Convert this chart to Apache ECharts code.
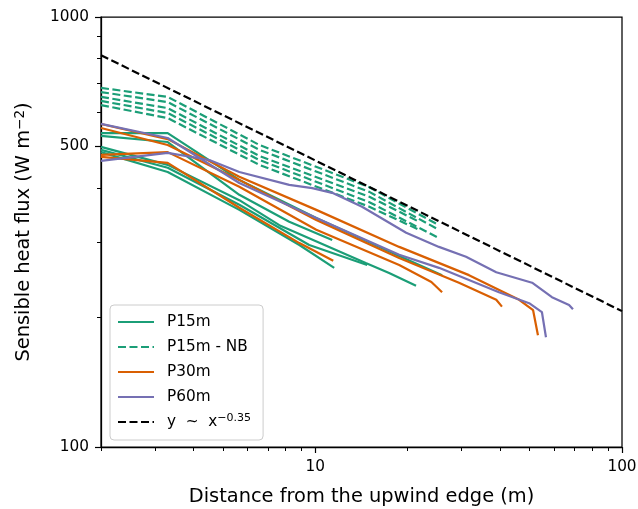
<!DOCTYPE html>
<html>
<head>
<meta charset="utf-8">
<script src="https://cdn.jsdelivr.net/npm/echarts@6/dist/echarts.min.js"></script>
<style>html,body{margin:0;padding:0;background:#fff}#c{width:638px;height:509px}</style>
</head>
<body>
<div id="c"></div>
<script>
// ---- Data ----
// P15m (solid green)
const g1x = [2, 3.3, 5.65, 10.07, 18.77, 25.9];
const g1y = [537, 537, 418, 341, 278, 251];
const g2x = [2, 3.3, 5.65, 8.22, 11.35];
const g2y = [529, 512, 386, 334, 303];
const g3x = [2, 3.3, 5.65, 7.63, 14.6, 17.4, 21.3];
const g3y = [499, 453, 375, 328, 268, 254, 237];
const g4x = [2, 3.3, 5.65, 9.55, 14.76];
const g4y = [491, 446, 366, 295, 265];
const g5x = [2, 3.3, 5.65, 8.87, 11.52];
const g5y = [485, 436, 356, 295, 261];
// P15m - NB (dashed green)
const d1x = [2, 3.3, 6.57, 15.0, 25.3];
const d1y = [684, 652, 504, 402, 328];
const d2x = [2, 3.3, 6.57, 15.0, 25.3];
const d2y = [669, 634, 491, 392, 320];
const d3x = [2, 3.3, 6.57, 15.0, 21.8];
const d3y = [652, 614, 475, 382, 334];
const d4x = [2, 3.3, 6.57, 15.0, 25.3];
const d4y = [638, 598, 465, 371, 306];
const d5x = [2, 3.3, 6.57, 15.0, 21.8];
const d5y = [624, 582, 453, 362, 320];
// P30m (orange)
const o1x = [2, 3.3, 5.65, 10.07, 18.77, 31.7, 46.2, 51.3, 53.2];
const o1y = [564, 520, 425, 356, 292, 251, 220, 208, 182];
const o2x = [2, 3.3, 5.65, 10.07, 18.77, 29.4, 38.9, 40.6];
const o2y = [552, 504, 418, 337, 275, 241, 220, 212];
const o3x = [2, 3.3, 5.65, 10.07, 18.77, 23.9, 25.9];
const o3y = [478, 485, 403, 320, 265, 242, 229];
const o4x = [2, 3.3, 5.65, 8.87, 11.44];
const o4y = [473, 458, 360, 298, 271];
// P60m (purple)
const p1x = [2, 3.3, 4.51, 5.65, 8.22, 9.77, 11.35, 14.2, 19.78, 25.3, 31.0, 38.9, 50.9, 59.1, 67.2, 69.2];
const p1y = [463, 483, 465, 436, 407, 400, 390, 362, 315, 292, 277, 255, 241, 223, 214, 209];
const p2x = [2, 3.3, 5.65, 10.07, 18.77, 25.3, 39.7, 49.8, 54.8, 56.5];
const p2y = [564, 523, 411, 341, 280, 261, 229, 216, 206, 180];
// reference power law y ~ x^-0.35 (end points)
const refX = [2, 100];
const refY = [815, 207];

// Axis ticks and labels
const xMajor = [10, 100];
const xMinor = [2, 3, 4, 5, 6, 7, 8, 9, 20, 30, 40, 50, 60, 70, 80, 90];
const yMajor = [100, 500, 1000];
const yMinor = [200, 300, 400, 600, 700, 800, 900];

const GREEN = '#1b9e77', ORANGE = '#d95f02', PURPLE = '#7570b3';
const FONT = 'DejaVu Sans';

function pts(xs, ys) { return xs.map((x, i) => [x, ys[i]]); }
function line(name, xs, ys, color, dashed, z) {
  return {
    type: 'line', name: name, data: pts(xs, ys), symbol: 'none', silent: true,
    xAxisIndex: 0, yAxisIndex: 0, z: z || 2,
    lineStyle: { color: color, width: 2.2, type: dashed ? [8, 3.5] : 'solid' },
    itemStyle: { color: color }
  };
}

const series = [
  line('P15m', g1x, g1y, GREEN), line('P15m', g2x, g2y, GREEN), line('P15m', g3x, g3y, GREEN),
  line('P15m', g4x, g4y, GREEN), line('P15m', g5x, g5y, GREEN),
  line('P15m - NB', d1x, d1y, GREEN, true), line('P15m - NB', d2x, d2y, GREEN, true),
  line('P15m - NB', d3x, d3y, GREEN, true), line('P15m - NB', d4x, d4y, GREEN, true),
  line('P15m - NB', d5x, d5y, GREEN, true),
  line('P30m', o1x, o1y, ORANGE), line('P30m', o2x, o2y, ORANGE),
  line('P30m', o3x, o3y, ORANGE), line('P30m', o4x, o4y, ORANGE),
  line('P60m', p1x, p1y, PURPLE), line('P60m', p2x, p2y, PURPLE),
  line('powerlaw', refX, refY, '#000', true, 3)
];

const option = {
  animation: false,
  backgroundColor: '#fff',
  textStyle: { fontFamily: FONT },
  grid: { left: 101, top: 17, width: 521, height: 430, show: true, borderColor: '#000', borderWidth: 1.25,
    backgroundColor: 'transparent', containLabel: false, outerBoundsMode: 'none' },
  xAxis: [
    {
      type: 'log', logBase: 10, min: 2, max: 100, position: 'bottom',
      splitLine: { show: false },
      name: 'Distance from the upwind edge (m)', nameLocation: 'middle', nameGap: 40,
      nameTextStyle: { fontSize: 19.4, color: '#000', fontFamily: FONT },
      axisLine: { show: true, lineStyle: { color: '#000', width: 1.25 } },
      axisTick: { show: true, length: 6, lineStyle: { color: '#000', width: 1.2 }, customValues: xMajor },
      axisLabel: { show: true, customValues: xMajor, margin: 13, fontSize: 15.3, color: '#000', fontFamily: FONT, formatter: v => String(v) }
    },
    {
      type: 'log', logBase: 10, min: 2, max: 100, position: 'bottom', offset: 0,
      splitLine: { show: false },
      axisLine: { show: true, lineStyle: { color: '#000', width: 1.25, opacity: 0 } },
      axisTick: { show: true, length: 4, lineStyle: { color: '#000', width: 1, opacity: 1 }, customValues: xMinor },
      axisLabel: { show: false }
    }
  ],
  yAxis: [
    {
      type: 'log', logBase: 10, min: 100, max: 1000, position: 'left',
      splitLine: { show: false },
      name: 'Sensible heat flux (W m{sup|\u22122})', nameLocation: 'middle', nameGap: 67, nameRotate: 90,
      nameTextStyle: { fontSize: 19.4, color: '#000', fontFamily: FONT,
        rich: { sup: { fontSize: 13.5, color: '#000', fontFamily: FONT, verticalAlign: 'top', padding: [0, 0, 7, 0] } } },
      axisLine: { show: true, lineStyle: { color: '#000', width: 1.25 } },
      axisTick: { show: true, length: 6, lineStyle: { color: '#000', width: 1.2 }, customValues: yMajor },
      axisLabel: { show: true, customValues: yMajor, margin: 12, fontSize: 15.3, color: '#000', fontFamily: FONT, formatter: v => String(v) }
    },
    {
      type: 'log', logBase: 10, min: 100, max: 1000, position: 'left', offset: 0,
      splitLine: { show: false },
      axisLine: { show: true, lineStyle: { color: '#000', width: 1.25, opacity: 0 } },
      axisTick: { show: true, length: 4, lineStyle: { color: '#000', width: 1, opacity: 1 }, customValues: yMinor },
      axisLabel: { show: false }
    }
  ],
  legend: {
    orient: 'vertical', left: 110, top: 305,
    data: ['P15m', 'P15m - NB', 'P30m', 'P60m', 'powerlaw'],
    itemWidth: 36, itemHeight: 14, itemGap: 7,
    padding: [8, 12, 9, 7],
    backgroundColor: 'rgba(255,255,255,0.8)', borderColor: '#cccccc', borderWidth: 1, borderRadius: 4,
    selectedMode: false,
    itemStyle: { opacity: 0 },
    textStyle: { fontSize: 15.3, lineHeight: 18, color: '#000', fontFamily: FONT, padding: [0, 0, 0, 8],
      rich: { sup: { fontSize: 11, color: '#000', fontFamily: FONT, verticalAlign: 'top', padding: [0, 0, 8, 0] } } },
    formatter: function (name) {
      if (name === 'powerlaw') return 'y  ~  x{sup|\u22120.35}';
      return name;
    }
  },
  series: series
};

const chart = echarts.init(document.getElementById('c'), null, { renderer: 'canvas' });
chart.setOption(option);
</script>
</body>
</html>
